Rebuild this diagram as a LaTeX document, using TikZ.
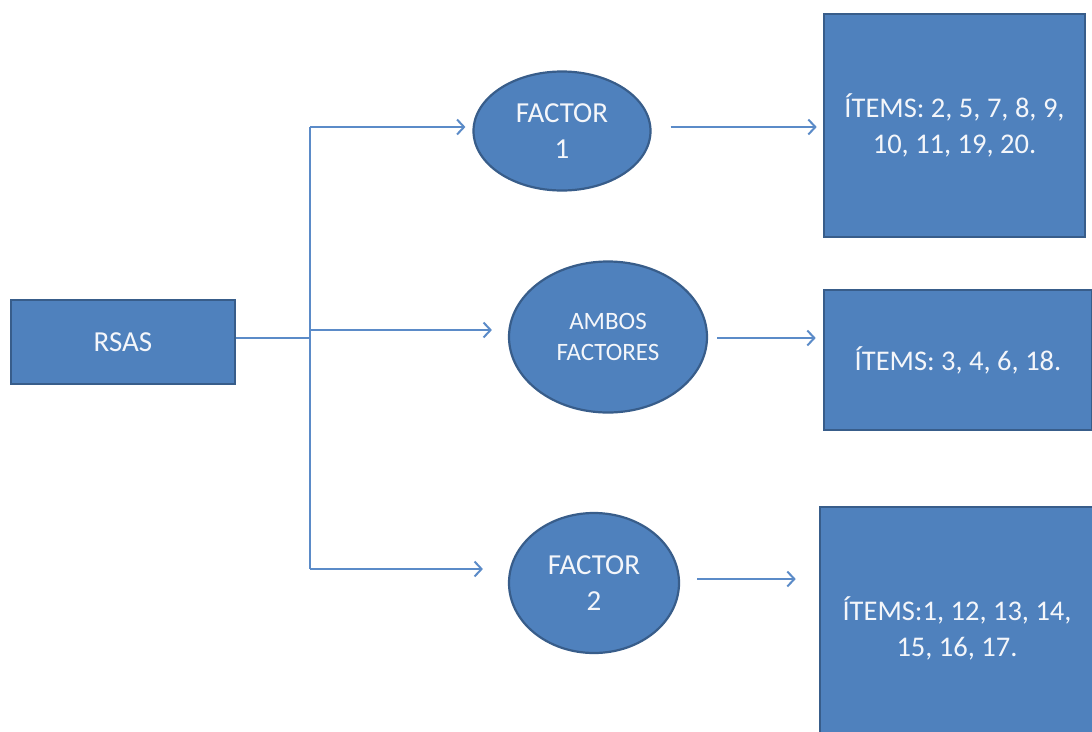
\documentclass[tikz,border=0pt]{standalone}
\usepackage{fontspec}
\setmainfont{Carlito}
\usetikzlibrary{shapes.geometric,arrows.meta}
\definecolor{ofill}{HTML}{4F81BD}
\definecolor{oedge}{HTML}{385D8A}
\definecolor{oline}{HTML}{5B8BC8}
\definecolor{otext}{HTML}{F4F6FA}
\tikzset{
  blockbox/.style={rectangle, draw=oedge, line width=2.6pt, fill=ofill, text=otext, align=center, inner sep=0pt},
  factorell/.style={ellipse, draw=oedge, line width=2.2pt, fill=ofill, text=otext, align=center, inner sep=0pt},
  conn/.style={draw=oline, line width=2pt},
  arr/.style={conn, -{Straight Barb[length=7pt,width=15pt,line width=2pt]}},
  bigtxt/.style={font=\fontsize{29}{36}\selectfont},
  itemtxt/.style={font=\fontsize{28.5}{36}\selectfont},
  smalltxt/.style={font=\fontsize{25}{31}\selectfont}
}
\begin{document}
\begin{tikzpicture}[x=1pt,y=-1pt]
\useasboundingbox (0,0) rectangle (1092,731);
\clip (0,0) rectangle (1092,731);
\fill[white] (0,0) rectangle (1092,731);

\node[blockbox, bigtxt, minimum width=224pt, minimum height=84pt] (rsas) at (123,342) {RSAS};

\node[factorell, bigtxt, minimum width=177pt, minimum height=119pt] (f1) at (562,131) {FACTOR\\1};
\node[factorell, smalltxt, minimum width=198pt, minimum height=151pt] (amb) at (608,337) {AMBOS\\FACTORES};
\node[factorell, bigtxt, minimum width=170pt, minimum height=140pt] (f2) at (594,583) {FACTOR\\2};

\node[blockbox, itemtxt, minimum width=261pt, minimum height=223pt] (b1) at (954.5,125.5) {ÍTEMS: 2, 5, 7, 8, 9,\\10, 11, 19, 20.};
\node[blockbox, itemtxt, minimum width=268pt, minimum height=140pt] (b2) at (958,360) {ÍTEMS: 3, 4, 6, 18.};
\node[blockbox, itemtxt, minimum width=274pt, minimum height=243pt] (b3) at (957,628.5) {ÍTEMS:1, 12, 13, 14,\\15, 16, 17.};

\coordinate (jm) at (310,338);
\coordinate (jt) at (310,127);
\coordinate (ja) at (310,330);
\coordinate (jb) at (310,569);

\draw[conn] (rsas.east |- jm) -- (jm);
\draw[conn] (jt) -- (jb);
\draw[arr, shorten >=7pt] (jt) -- (jt -| f1.west);
\draw[arr, shorten >=16pt] (ja) -- (ja -| amb.west);
\draw[arr, shorten >=25pt] (jb) -- (jb -| f2.west);

\coordinate (o1) at (0,127);
\coordinate (o2) at (0,338);
\coordinate (o3) at (0,579);
\draw[arr, shorten <=19pt, shorten >=6pt] (o1 -| f1.east) -- (o1 -| b1.west);
\draw[arr, shorten <=9pt, shorten >=7pt] (o2 -| amb.east) -- (o2 -| b2.west);
\draw[arr, shorten <=17pt, shorten >=23pt] (o3 -| f2.east) -- (o3 -| b3.west);
\end{tikzpicture}
\end{document}
